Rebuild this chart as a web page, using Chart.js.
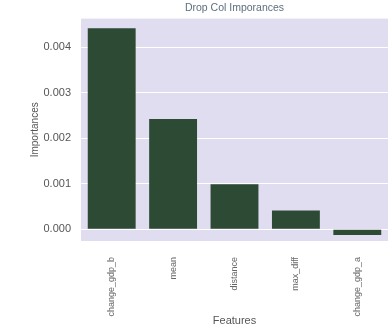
<!DOCTYPE html>
<html>
<head>
<meta charset="utf-8">
<script src="https://cdn.jsdelivr.net/npm/chart.js@4/dist/chart.umd.min.js"></script>
<style>
  html, body { margin: 0; padding: 0; background: #ffffff; }
  #wrap { width: 388px; height: 328px; }
</style>
</head>
<body>
<div id="wrap"><canvas id="dropColChart"></canvas></div>
<script>
const features = ["change_gdp_b", "mean", "distance", "max_diff", "change_gdp_a"];
const importances = [0.00442, 0.00242, 0.00099, 0.00041, -0.00013];
const yTicks = [0, 0.001, 0.002, 0.003, 0.004];

// lavender plot background
const plotBg = {
  id: "plotBg",
  beforeDraw(chart) {
    const { ctx, chartArea } = chart;
    ctx.save();
    ctx.fillStyle = "#e1ddf1";
    ctx.fillRect(chartArea.left, chartArea.top, chartArea.width, chartArea.height);
    ctx.restore();
  },
};

const config1 = {
  type: "bar",
  data: {
    labels: features,
    datasets: [
      {
        label: "Importances",
        data: importances,
        backgroundColor: "#2c4a34",
        barPercentage: 0.78,
        categoryPercentage: 1.0,
      },
    ],
  },
  options: {
    maintainAspectRatio: false,
    animation: false,
    layout: { padding: { left: 29, right: 0, top: 0, bottom: 0 } },
    plugins: {
      legend: { display: false },
      tooltip: { enabled: false },
      title: {
        display: true,
        fullSize: false,
        text: "Drop Col Imporances",
        color: "#5b6f80",
        font: { family: "Liberation Sans", size: 10.5, weight: "normal" },
        padding: { top: 2, bottom: 4 },
      },
    },
    scales: {
      x: {
        afterFit(scale) {
          scale.height = 87;
        },
        grid: { display: false, drawTicks: false },
        border: { display: false },
        ticks: {
          color: "#666666",
          font: { family: "Liberation Sans", size: 9 },
          minRotation: 90,
          maxRotation: 90,
          padding: 16,
        },
        title: {
          display: true,
          text: "Features",
          color: "#555555",
          font: { family: "Liberation Sans", size: 11 },
          padding: { top: 2, bottom: 0 },
        },
      },
      y: {
        min: -0.00026,
        max: 0.00463,
        afterBuildTicks(scale) {
          scale.ticks = yTicks.map((v) => ({ value: v }));
        },
        afterFit(scale) {
          scale.width = 52;
        },
        grid: { color: "#ffffff", lineWidth: 1, drawTicks: false },
        border: { display: false },
        ticks: {
          color: "#555555",
          font: { family: "Liberation Sans", size: 11 },
          padding: 10,
          callback: (v) => Number(v).toFixed(3),
        },
        title: {
          display: true,
          text: "Importances",
          color: "#555555",
          font: { family: "Liberation Sans", size: 10 },
          padding: { top: 0, bottom: 0 },
        },
      },
    },
  },
  plugins: [plotBg],
};

let myChart1 = new Chart(document.getElementById("dropColChart"), config1);
</script>
</body>
</html>
